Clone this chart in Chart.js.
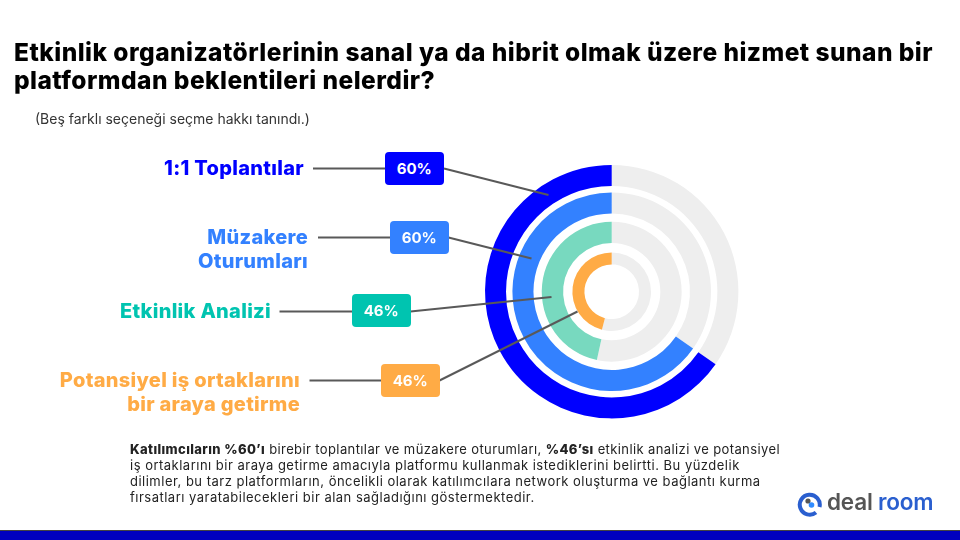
<!DOCTYPE html>
<html lang="tr">
<head>
<meta charset="utf-8">
<title>Etkinlik platformu beklentileri</title>
<script src="https://cdn.jsdelivr.net/npm/chart.js@4"></script>
<style>
    html, body { margin: 0; padding: 0; background: #fff; }
    #slide { position: relative; width: 960px; height: 540px; overflow: hidden; font-family: Inter, "Noto Sans", sans-serif; }
    #chart { position: absolute; left: 0; top: 0; width: 960px; height: 540px; }
    #slide > div, #slide > svg { position: absolute; }
    .title { left: 14px; top: 38px; width: 930px; font-size: 24.5px; line-height: 28px; font-weight: 800; color: #000; letter-spacing: 0.46px; white-space: nowrap; }
    .note { left: 35px; top: 110px; font-size: 14px; color: #333; white-space: nowrap; }
    .label { font-size: 20px; line-height: 23.5px; font-weight: 800; letter-spacing: 0.3px; text-align: right; white-space: nowrap; }
    .pill { height: 33px; width: 58.5px; border-radius: 4px; color: #fff; font-size: 15px; font-weight: 700; line-height: 34px; text-align: center; }
    .summary { left: 130px; top: 442px; font-size: 13px; line-height: 15.9px; letter-spacing: 0.49px; color: #222; white-space: nowrap; }
    .summary .first { letter-spacing: 0.39px; }
    .summary b { font-weight: 800; }
    .bar { left: 0; top: 530px; width: 960px; height: 10px; background: #0000c0; border-top: 1px solid #444; box-sizing: border-box; }
    .logo-text { left: 827px; top: 487px; font-size: 22.5px; line-height: 30px; font-weight: 600; color: #555; letter-spacing: -0.2px; white-space: nowrap; }
    .logo-text span { color: #2a5fcf; }
</style>
</head>
<body>
<div id="slide">
    <canvas id="chart" width="960" height="540"></canvas>
    <div class="title">Etkinlik organizatörlerinin sanal ya da hibrit olmak üzere hizmet sunan bir<br>platformdan beklentileri nelerdir?</div>
    <div class="note">(Beş farklı seçeneği seçme hakkı tanındı.)</div>
    <div class="label" style="right:656px;top:157px;color:#0000ff">1:1 Toplantılar</div>
    <div class="label" style="right:652px;top:226px;color:#3381ff">Müzakere<br>Oturumları</div>
    <div class="label" style="right:689px;top:300px;color:#00c4b0">Etkinlik Analizi</div>
    <div class="label" style="right:660px;top:369px;color:#ffab45">Potansiyel iş ortaklarını<br>bir araya getirme</div>
    <div class="pill" style="left:385px;top:152px;background:#0000ff">60%</div>
    <div class="pill" style="left:390px;top:221px;background:#3381ff">60%</div>
    <div class="pill" style="left:352px;top:294px;background:#00c4b0">46%</div>
    <div class="pill" style="left:381px;top:364px;background:#ffab45">46%</div>
    <div class="summary"><span class="first"><b>Katılımcıların %60’ı</b> birebir toplantılar ve müzakere oturumları, <b>%46’sı</b> etkinlik analizi ve potansiyel</span><br>iş ortaklarını bir araya getirme amacıyla platformu kullanmak istediklerini belirtti. Bu yüzdelik<br>dilimler, bu tarz platformların, öncelikli olarak katılımcılara network oluşturma ve bağlantı kurma<br>fırsatları yaratabilecekleri bir alan sağladığını göstermektedir.</div>
    <svg style="left:797px;top:490px" width="26" height="27" viewBox="0 0 26 27">
        <path d="M19 22.5 A10 10 0 1 1 22.5 17" fill="none" stroke="#2a5fcf" stroke-width="4"/>
        <circle cx="11" cy="11" r="2.6" fill="#555"/>
        <circle cx="14.5" cy="15" r="2.8" fill="#2f8bff"/>
    </svg>
    <div class="logo-text">deal <span>room</span></div>
    <div class="bar"></div>
</div>

<script>
// Data (arcs are drawn a bit longer than the printed 60%)
const categories = ['1:1 Toplantılar', 'Müzakere Oturumları', 'Etkinlik Analizi', 'Potansiyel iş ortaklarını bir araya getirme'];
const arcValues = [65.3, 65.3, 46.6, 46];
const ringColors = ['#0000ff', '#3381ff', '#78d9bf', '#ffab45'];
const ringWeights = [21, 21, 21.3, 12];
const gapWeights = [6.4, 8.3, 9.3];

// label line: [x1, y1, x2, y2]
const leaderLines = [
    [313, 168.5, 385, 168.5], [444, 168.5, 548.5, 195],
    [318, 237.5, 390, 237.5], [448.5, 237.5, 531.5, 258.5],
    [279.5, 311.5, 352, 311.5], [410.5, 311.5, 551.5, 297],
    [309.5, 380.5, 381, 380.5], [439.5, 380.5, 577.5, 311.5]
];

// Build rings outside-in, with an empty ring as the white gap between them
function buildDatasets() {
    const datasets = [];
    arcValues.forEach((value, i) => {
        datasets.push({
            label: categories[i],
            data: [100 - value, value],
            backgroundColor: ['#eeeeee', ringColors[i]],
            weight: ringWeights[i]
        });
        if (i < gapWeights.length) {
            datasets.push({ label: 'gap', data: [1], backgroundColor: ['rgba(0,0,0,0)'], weight: gapWeights[i] });
        }
    });
    return datasets;
}

const leaderPlugin = {
    id: 'leaderLines',
    afterDraw(chart) {
        const ctx = chart.ctx;
        ctx.save();
        ctx.strokeStyle = '#595959';
        ctx.lineWidth = 2;
        leaderLines.forEach(line => {
            ctx.beginPath();
            ctx.moveTo(line[0], line[1]);
            ctx.lineTo(line[2], line[3]);
            ctx.stroke();
        });
        ctx.restore();
    }
};

new Chart(document.getElementById('chart').getContext('2d'), {
    type: 'doughnut',
    data: { labels: ['Kalan', 'Oran'], datasets: buildDatasets() },
    options: {
        responsive: false,
        animation: false,
        cutout: 27.3,
        elements: { arc: { borderWidth: 0 } },
        layout: { padding: { left: 485, right: 221.6, top: 165, bottom: 121.6 } },
        plugins: { legend: { display: false }, tooltip: { enabled: false } }
    },
    plugins: [leaderPlugin]
});
</script>
</body>
</html>
